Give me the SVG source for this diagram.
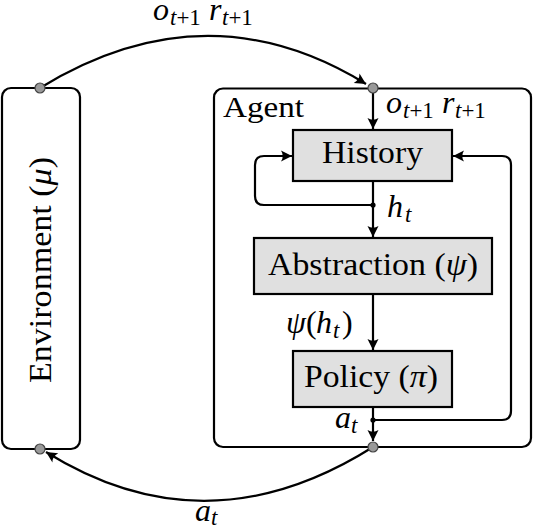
<svg xmlns="http://www.w3.org/2000/svg" width="534" height="530" viewBox="0 0 534 530">
<style>
.line{fill:none;stroke:#000;stroke-width:2.2}
.box{fill:#e0e0e0;stroke:#000;stroke-width:2.2}
.frame{fill:#fff;stroke:#000;stroke-width:2.2}
.lbl{font-family:"Liberation Serif","Times New Roman",serif;font-size:31px;fill:#000}
.math{font-family:"Liberation Serif","Times New Roman",serif;font-size:32px;fill:#000}
.i{font-style:italic}
.sub{font-size:23px}
.dot{fill:#999;stroke:#444;stroke-width:1.2}
</style>
<defs>
<marker id="arr" markerUnits="userSpaceOnUse" markerWidth="14" markerHeight="14" viewBox="-12 -7 14 14" refX="0" refY="0" orient="auto">
<path d="M0,0 L-11,-5.5 Q-7.5,0 -11,5.5 Z" fill="#000"/>
</marker>
</defs>
<g id="environment">
<rect class="frame" x="2" y="88" width="78" height="361" rx="9"/>
<text class="lbl" transform="translate(51,270) rotate(-90)" text-anchor="middle" textLength="226" lengthAdjust="spacingAndGlyphs">Environment (<tspan class="i">μ</tspan>)</text>
</g>
<g id="agent">
<rect class="frame" x="214" y="88.5" width="317" height="358.5" rx="9"/>
<text class="lbl" x="223" y="117" style="font-size:29px" textLength="81" lengthAdjust="spacingAndGlyphs">Agent</text>
</g>
<g id="history">
<rect class="box" x="293" y="130" width="159" height="51"/>
<text class="lbl" x="372.5" y="163" text-anchor="middle" textLength="101" lengthAdjust="spacingAndGlyphs">History</text>
</g>
<g id="abstraction">
<rect class="box" x="254" y="238" width="238" height="56"/>
<text class="lbl" x="373" y="275" text-anchor="middle" textLength="210" lengthAdjust="spacingAndGlyphs">Abstraction (<tspan class="i">ψ</tspan>)</text>
</g>
<g id="policy">
<rect class="box" x="293" y="351" width="159" height="56"/>
<text class="lbl" x="371" y="387" text-anchor="middle" textLength="134" lengthAdjust="spacingAndGlyphs">Policy (<tspan class="i">π</tspan>)</text>
</g>
<g id="connectors">
<path class="line" d="M40,88 Q206.5,-14 366,84" marker-end="url(#arr)"/>
<path class="line" d="M373,447 Q206.5,552 46,452" marker-end="url(#arr)"/>
<path class="line" d="M373,93 V129" marker-end="url(#arr)"/>
<path class="line" d="M373,181 V237" marker-end="url(#arr)"/>
<path class="line" d="M373,294 V350" marker-end="url(#arr)"/>
<path class="line" d="M373,407 V441" marker-end="url(#arr)"/>
<path class="line" d="M373,205 H264 Q255,205 255,196 V165 Q255,156 264,156 H292" marker-end="url(#arr)"/>
<path class="line" d="M373,420 H502 Q511,420 511,411 V165 Q511,156 502,156 H453" marker-end="url(#arr)"/>
<circle cx="373" cy="205" r="2.6" fill="#000"/>
<circle cx="373" cy="420" r="2.6" fill="#000"/>
<circle class="dot" cx="40" cy="88" r="5"/>
<circle class="dot" cx="373" cy="88" r="5"/>
<circle class="dot" cx="40" cy="449" r="5"/>
<circle class="dot" cx="373" cy="447" r="5"/>
</g>
<g id="labels">
<text class="math" y="20"><tspan class="i" x="153">o</tspan><tspan class="sub" x="170" dy="5"><tspan class="i">t</tspan>+1</tspan><tspan class="i" x="209" dy="-5">r</tspan><tspan class="sub" x="222" dy="5"><tspan class="i">t</tspan>+1</tspan></text>
<text class="math" y="113"><tspan class="i" x="386">o</tspan><tspan class="sub" x="403" dy="5"><tspan class="i">t</tspan>+1</tspan><tspan class="i" x="442" dy="-5">r</tspan><tspan class="sub" x="455" dy="5"><tspan class="i">t</tspan>+1</tspan></text>
<text class="math" y="217"><tspan class="i" x="387">h</tspan><tspan class="sub i" x="405" dy="5">t</tspan></text>
<text class="math" y="333"><tspan class="i" x="286">ψ</tspan><tspan x="306">(</tspan><tspan class="i" x="316">h</tspan><tspan class="sub i" x="333" dy="5">t</tspan><tspan x="342" dy="-5">)</tspan></text>
<text class="math" y="428"><tspan class="i" x="335">a</tspan><tspan class="sub i" x="351" dy="5">t</tspan></text>
<text class="math" y="521"><tspan class="i" x="195">a</tspan><tspan class="sub i" x="211" dy="4">t</tspan></text>
</g>
</svg>
